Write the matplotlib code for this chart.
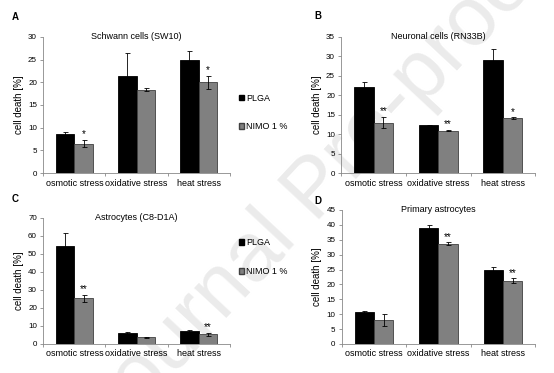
import numpy as np
import matplotlib
matplotlib.use('Agg')
import matplotlib.pyplot as plt
from matplotlib.patches import Patch

plt.rcParams['font.family'] = ['Liberation Sans', 'DejaVu Sans']

categories = ['osmotic stress', 'oxidative stress', 'heat stress']
series_names = ['PLGA', 'NIMO 1 %']

# panel A - Schwann cells (SW10)
a_plga = [8.6, 21.4, 24.9]
a_plga_err = [0.5, 5.0, 2.0]
a_nimo = [6.5, 18.4, 20.0]
a_nimo_err = [0.8, 0.4, 1.5]
a_stars = ['*', '', '*']

# panel B - Neuronal cells (RN33B)
b_plga = [22.2, 12.3, 29.0]
b_plga_err = [1.2, 0.1, 2.8]
b_nimo = [13.0, 10.9, 14.1]
b_nimo_err = [1.4, 0.15, 0.2]
b_stars = ['**', '**', '*']

# panel C - Astrocytes (C8-D1A)
c_plga = [54.3, 5.8, 7.0]
c_plga_err = [7.5, 0.7, 0.5]
c_nimo = [25.3, 3.8, 5.3]
c_nimo_err = [1.8, 0.3, 0.8]
c_stars = ['**', '', '**']

# panel D - Primary astrocytes
d_plga = [10.6, 39.1, 24.9]
d_plga_err = [0.3, 0.7, 0.8]
d_nimo = [8.0, 33.7, 21.2]
d_nimo_err = [1.9, 0.4, 0.8]
d_stars = ['', '**', '**']

fig = plt.figure(figsize=(5.54, 3.73), dpi=100)

# watermark behind everything
fig.text(0.57, 0.49, 'Journal Pre-proof', fontsize=60, color='#ebebeb',
         rotation=47, ha='center', va='center', zorder=-5)

# letter, title, data, axes rect, ymax, step, letter pos (px), legend anchor y
panels = [
    ('A', 'Schwann cells (SW10)', a_plga, a_plga_err, a_nimo, a_nimo_err, a_stars,
     [0.078, 0.536, 0.337, 0.365], 30, 5, (15, 17), 0.61),
    ('B', 'Neuronal cells (RN33B)', b_plga, b_plga_err, b_nimo, b_nimo_err, b_stars,
     [0.616, 0.536, 0.350, 0.365], 35, 5, (318, 16), None),
    ('C', 'Astrocytes (C8-D1A)', c_plga, c_plga_err, c_nimo, c_nimo_err, c_stars,
     [0.078, 0.078, 0.337, 0.338], 70, 10, (15, 199), 0.865),
    ('D', 'Primary astrocytes', d_plga, d_plga_err, d_nimo, d_nimo_err, d_stars,
     [0.617, 0.078, 0.349, 0.359], 45, 5, (318, 201), None),
]

x = np.arange(len(categories))
w = 0.3
for (letter, title, plga, plga_err, nimo, nimo_err, stars, rect, ymax, ystep,
     lpos, leg_y) in panels:
    ax = fig.add_axes(rect)
    ax.patch.set_alpha(0)
    ax.bar(x - w / 2, plga, w, color='black', edgecolor='black', linewidth=0.6)
    ax.bar(x + w / 2, nimo, w, color='#808080', edgecolor='#404040', linewidth=0.6)
    ax.errorbar(x - w / 2, plga, yerr=plga_err, fmt='none', ecolor='black',
                elinewidth=0.6, capsize=1.8, capthick=0.6)
    ax.errorbar(x + w / 2, nimo, yerr=nimo_err, fmt='none', ecolor='black',
                elinewidth=0.6, capsize=1.8, capthick=0.6)
    for i, s in enumerate(stars):
        if s:
            ax.text(x[i] + w / 2, nimo[i] + nimo_err[i] + ymax * 0.005, s,
                    ha='center', va='bottom', fontsize=7)
    ax.set_xlim(-0.5, 2.5)
    ax.set_ylim(0, ymax)
    ax.set_yticks(np.arange(0, ymax + 1, ystep))
    ax.set_xticks(x)
    ax.set_xticklabels(categories, fontsize=6.5)
    ax.set_xticks([-0.5, 0.5, 1.5, 2.5], minor=True)
    ax.tick_params(axis='x', which='major', length=0, pad=4)
    ax.tick_params(axis='x', which='minor', length=2.5, width=0.6, color='#888888')
    ax.tick_params(axis='y', labelsize=5.8, length=2.5, width=0.6, color='#888888', pad=2)
    for side in ['top', 'right']:
        ax.spines[side].set_visible(False)
    for side in ['left', 'bottom']:
        ax.spines[side].set_color('#888888')
        ax.spines[side].set_linewidth(0.6)
    ax.set_ylabel('cell death [%]', fontsize=7, labelpad=3)
    ax.text(0.5, 1.0, title, transform=ax.transAxes, ha='center', va='center',
            fontsize=6.5)
    fig.text(lpos[0] / 554, 1 - lpos[1] / 373, letter, ha='center', va='center',
             fontsize=7, fontweight='bold')
    if leg_y is not None:
        handles = [Patch(facecolor='black', edgecolor='black'),
                   Patch(facecolor='#808080', edgecolor='#404040')]
        ax.legend(handles, series_names, loc='upper left', bbox_to_anchor=(1.027, leg_y),
                  frameon=False, fontsize=6.5, handlelength=0.6, handleheight=0.6,
                  handletextpad=0.2, labelspacing=2.2, borderaxespad=0)

fig.savefig('out.png', dpi=100)
